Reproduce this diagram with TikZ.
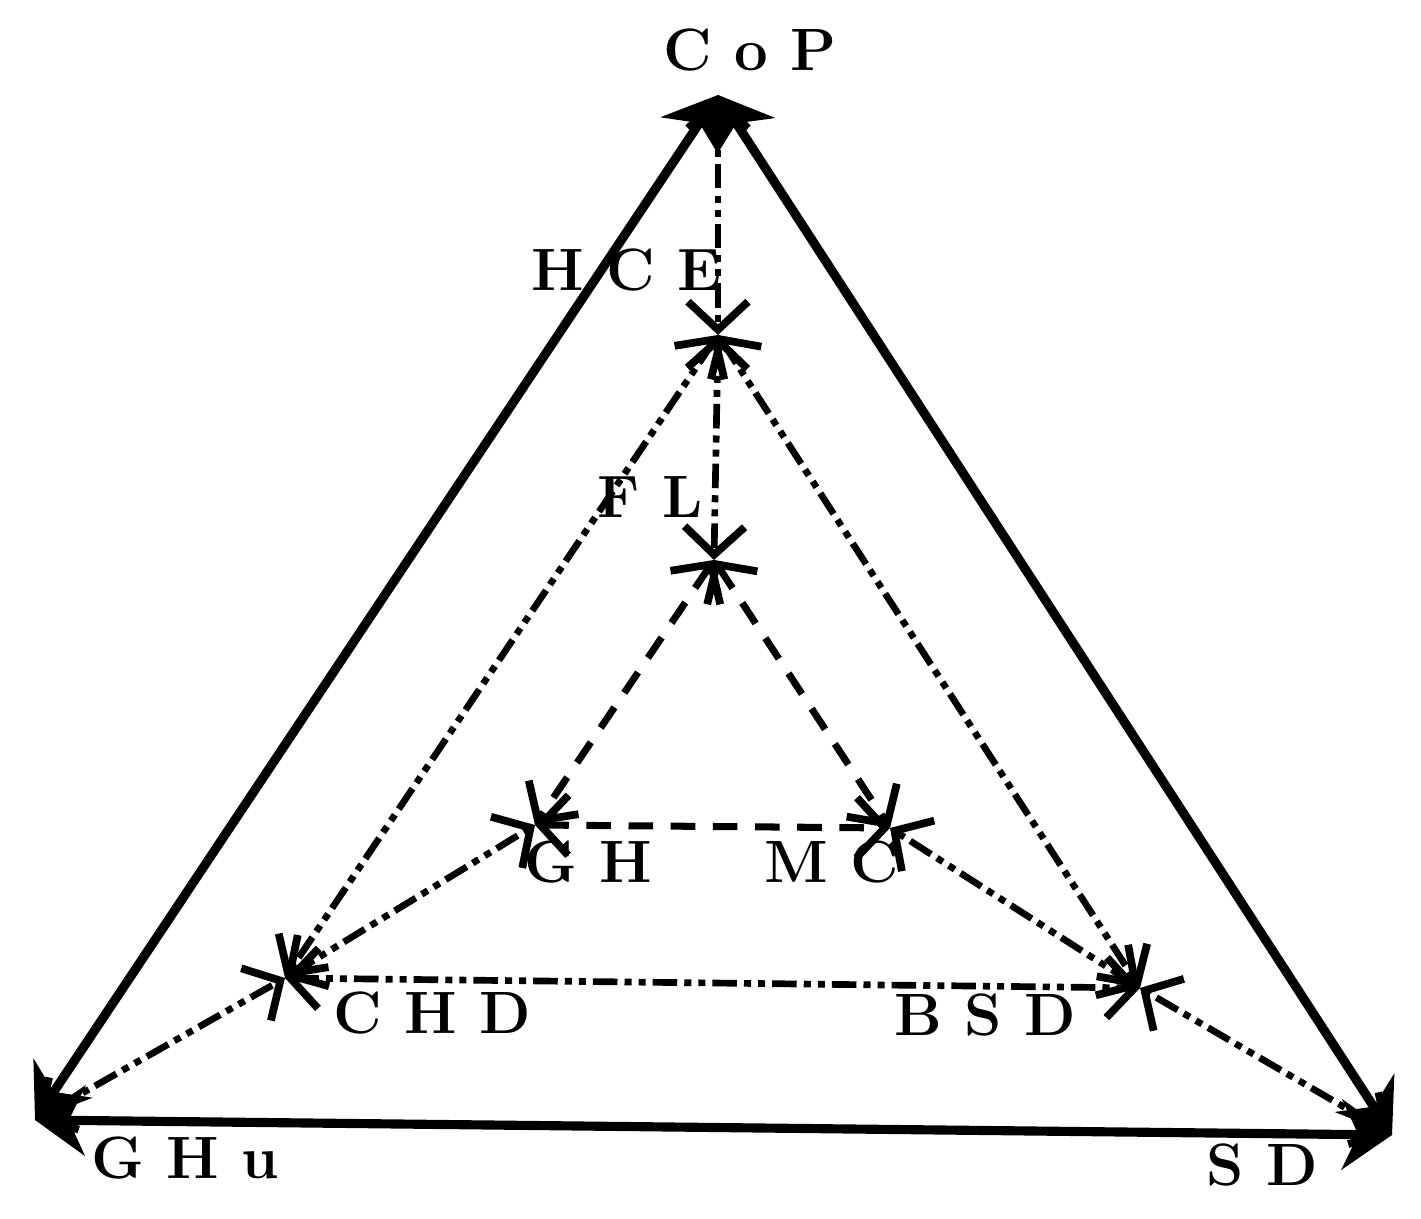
\documentclass[tikz,border=0pt]{standalone}
\usetikzlibrary{arrows.meta}
\tikzset{
  lbl/.style={font=\fontsize{17}{20}\selectfont\bfseries, inner sep=0pt},
  outer/.style={line width=2.6pt, {Stealth[length=5mm,width=7mm]}-{Stealth[length=5mm,width=7mm]}},
  ddot/.style={line width=1.9pt, dash pattern=on 7pt off 2pt on 2pt off 2pt on 2pt off 2pt,
    {Straight Barb[length=2.8mm,width=6mm,line width=2.2pt]}-{Straight Barb[length=2.8mm,width=6mm,line width=2.2pt]}},
  dsh/.style={line width=2pt, dash pattern=on 7pt off 5pt,
    {Straight Barb[length=2.8mm,width=6mm,line width=2.2pt]}-{Straight Barb[length=2.8mm,width=6mm,line width=2.2pt]}}
}
\begin{document}
\begin{tikzpicture}
    \useasboundingbox (0,0) rectangle (14.21,12.19);

    % vertices
    \coordinate (CoP) at (7.18,11.24);
    \coordinate (GHu) at (0.35,0.99);
    \coordinate (SD)  at (13.92,0.84);
    \coordinate (HCE) at (7.18,8.84);
    \coordinate (FL)  at (7.14,6.59);
    \coordinate (GH)  at (5.35,3.94);
    \coordinate (MC)  at (8.90,3.91);
    \coordinate (CHD) at (2.85,2.41);
    \coordinate (BSD) at (11.40,2.31);

    % labels
    \node[lbl] (copl) at (7.50,11.69) {C o P};
    \node[lbl] (hcel) at (6.27,9.49) {H C E};
    \node[lbl] (fll)  at (6.50,7.22) {F L};
    \node[lbl] (ghl)  at (5.88,3.57) {G H};
    \node[lbl] (mcl)  at (8.32,3.57) {M C};
    \node[lbl] (chdl) at (4.32,2.06) {C H D};
    \node[lbl] (bsdl) at (9.85,2.04) {B S D};
    \node[lbl] (ghul) at (1.85,0.61) {G H u};
    \node[lbl] (sdl)  at (12.62,0.54) {S D};

    % outer triangle
    \draw[outer] (GHu) -- (CoP);
    \draw[outer] (SD) -- (CoP);
    \draw[outer] (GHu) -- (SD);

    % middle triangle
    \draw[ddot] (CoP) -- (HCE);
    \draw[ddot] (HCE) -- (FL);
    \draw[ddot] (HCE) -- (CHD);
    \draw[ddot] (HCE) -- (BSD);
    \draw[ddot] (CHD) -- (BSD);
    \draw[ddot] (GHu) -- (CHD);
    \draw[ddot] (SD) -- (BSD);
    \draw[ddot] (CHD) -- (GH);
    \draw[ddot] (BSD) -- (MC);

    % inner triangle
    \draw[dsh] (FL) -- (GH);
    \draw[dsh] (FL) -- (MC);
    \draw[dsh] (GH) -- (MC);
\end{tikzpicture}
\end{document}
